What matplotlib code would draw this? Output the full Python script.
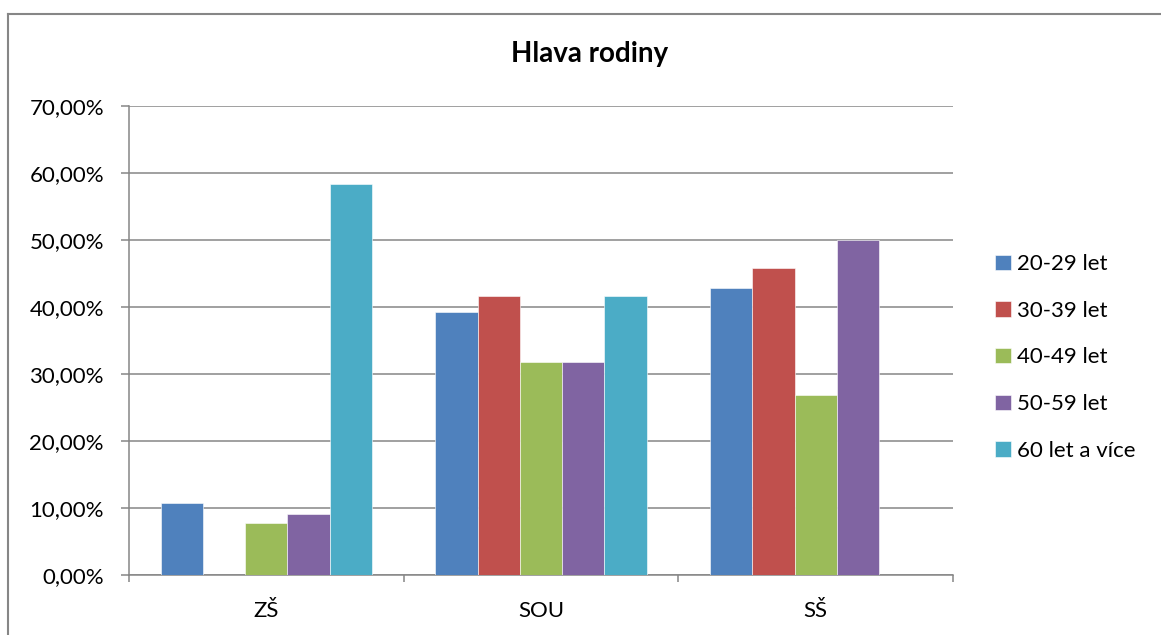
import matplotlib
matplotlib.use("Agg")
import matplotlib.pyplot as plt
import numpy as np
from matplotlib.ticker import FuncFormatter, FixedLocator
from matplotlib.lines import Line2D

categories = ["ZŠ", "SOU", "SŠ"]
series_names = ["20-29 let", "30-39 let", "40-49 let", "50-59 let", "60 let a více"]
val_20_29 = [10.71, 39.29, 42.86]
val_30_39 = [0.0, 41.67, 45.83]
val_40_49 = [7.69, 31.82, 26.92]
val_50_59 = [9.09, 31.82, 50.00]
val_60_plus = [58.33, 41.67, 0.0]
series_values = [val_20_29, val_30_39, val_40_49, val_50_59, val_60_plus]
colors = ["#4F81BD", "#C0504D", "#9BBB59", "#8064A2", "#4BACC6"]

plt.rcParams["font.family"] = ["Lato", "DejaVu Sans"]
grid_color = "#868686"

fig = plt.figure(figsize=(11.61, 6.35), dpi=100)
fig.patch.set_facecolor("white")
ax = fig.add_axes([129 / 1161, 60 / 635, 824 / 1161, 469 / 635])

# chart frame (left and top edges visible in the picture)
fig.add_artist(Line2D([7.5 / 1161, 7.5 / 1161], [0, 1 - 13.5 / 635],
                      transform=fig.transFigure, color=grid_color, linewidth=1.5))
fig.add_artist(Line2D([7.5 / 1161, 1], [1 - 13.5 / 635, 1 - 13.5 / 635],
                      transform=fig.transFigure, color=grid_color, linewidth=1.5))

x = np.arange(len(categories))
width = 1 / 6.5
for i, (name, vals, col) in enumerate(zip(series_names, series_values, colors)):
    ax.bar(x + (i - 2) * width, vals, width, color=col, label=name,
           edgecolor="white", linewidth=0.4, zorder=3)

ax.set_xlim(-0.5, 2.5)
ax.set_ylim(0, 70)
ax.set_yticks(np.arange(0, 71, 10))
ax.yaxis.set_major_formatter(FuncFormatter(lambda v, _: f"{v:.2f}%".replace(".", ",")))
ax.grid(axis="y", color=grid_color, linewidth=1.1, zorder=0)
ax.set_axisbelow(True)

ax.set_xticks(x, categories)
ax.xaxis.set_minor_locator(FixedLocator([-0.5, 0.5, 1.5, 2.5]))
ax.tick_params(axis="x", which="major", length=0, pad=19, labelsize=16)
ax.tick_params(axis="x", which="minor", length=5, width=1.1, color=grid_color)
ax.tick_params(axis="y", length=6, width=1.1, color=grid_color, pad=12, labelsize=16)

for side in ["top", "right"]:
    ax.spines[side].set_visible(False)
for side in ["left", "bottom"]:
    ax.spines[side].set_color(grid_color)
    ax.spines[side].set_linewidth(1.1)

fig.text(590 / 1161, 1 - 54 / 635, "Hlava rodiny", ha="center", va="center",
         fontsize=20, fontweight="bold", color="black")

ax.legend(loc="center left", bbox_to_anchor=(1.051, 0.4638), frameon=False,
          fontsize=16, handlelength=0.7, handleheight=0.7, handletextpad=0.3,
          labelspacing=1.2, borderpad=0, borderaxespad=0)

fig.savefig("out.png", dpi=100, facecolor="white")
